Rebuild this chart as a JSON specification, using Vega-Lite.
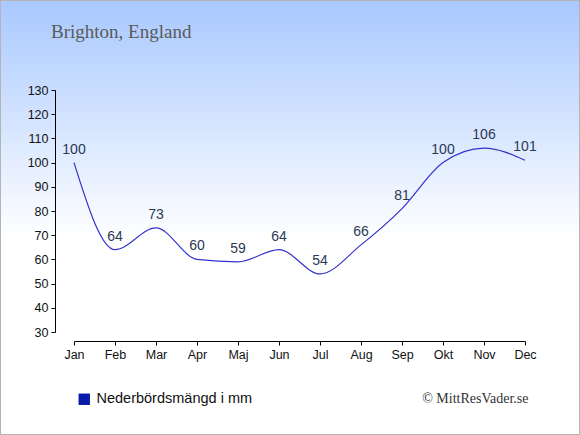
{
  "$schema": "https://vega.github.io/schema/vega-lite/v6.json",
  "width": 580,
  "height": 435,
  "autosize": {"type": "none"},
  "padding": 0,
  "background": "white",
  "title": {
    "text": "Brighton, England",
    "frame": "group",
    "anchor": "start",
    "orient": "top",
    "offset": -57,
    "dx": 51,
    "baseline": "alphabetic",
    "font": "Liberation Serif",
    "fontSize": 19,
    "fontWeight": "normal",
    "color": "#5a5a5a"
  },
  "data": {
    "values": [
      {"month": "Jan", "mm": 100},
      {"month": "Feb", "mm": 64},
      {"month": "Mar", "mm": 73},
      {"month": "Apr", "mm": 60},
      {"month": "Maj", "mm": 59},
      {"month": "Jun", "mm": 64},
      {"month": "Jul", "mm": 54},
      {"month": "Aug", "mm": 66},
      {"month": "Sep", "mm": 81},
      {"month": "Okt", "mm": 100},
      {"month": "Nov", "mm": 106},
      {"month": "Dec", "mm": 101}
    ]
  },
  "encoding": {
    "x": {
      "field": "month",
      "type": "ordinal",
      "sort": null,
      "scale": {"type": "point", "range": [74, 525], "padding": 0},
      "axis": {
        "orient": "bottom",
        "offset": -94,
        "labelAngle": 0,
        "title": "© MittResVader.se",
        "titleX": 528,
        "titleY": 61,
        "titleAlign": "right",
        "titleAnchor": null,
        "titleBaseline": "alphabetic",
        "titleFont": "Liberation Serif",
        "titleFontSize": 14,
        "titleFontWeight": "normal",
        "titleColor": "#333333"
      }
    },
    "y": {
      "field": "mm",
      "type": "quantitative",
      "scale": {"domain": [30, 130], "range": [332, 90], "nice": false, "zero": false},
      "axis": {
        "orient": "left",
        "offset": -55,
        "values": [30, 40, 50, 60, 70, 80, 90, 100, 110, 120, 130],
        "title": null,
        "grid": false
      }
    }
  },
  "layer": [
    {
      "mark": {"type": "line", "interpolate": "monotone", "strokeWidth": 1.2},
      "encoding": {
        "color": {
          "datum": "Nederbördsmängd i mm",
          "scale": {"domain": ["Nederbördsmängd i mm"], "range": ["#3333cc"]},
          "legend": {
            "title": null,
            "orient": "none",
            "legendX": 77,
            "legendY": 392,
            "padding": 0,
            "symbolType": "square",
            "symbolSize": 130,
            "symbolFillColor": "#0a1aaa",
            "symbolStrokeColor": "#0a1aaa",
            "symbolStrokeWidth": 0,
            "labelFont": "Liberation Sans",
            "labelFontSize": 14.5,
            "labelColor": "#111111",
            "labelOffset": 5
          }
        }
      }
    },
    {
      "mark": {
        "type": "text",
        "dy": -9,
        "baseline": "alphabetic",
        "font": "Liberation Sans",
        "fontSize": 14,
        "color": "#2a3a55"
      },
      "encoding": {"text": {"field": "mm", "type": "quantitative"}}
    }
  ],
  "config": {
    "view": {
      "fill": {
        "gradient": "linear",
        "x1": 0, "y1": 0, "x2": 0, "y2": 1,
        "stops": [
          {"offset": 0, "color": "#a8c8ff"},
          {"offset": 0.55, "color": "#ffffff"},
          {"offset": 1, "color": "#ffffff"}
        ]
      },
      "stroke": "#b4b4b4",
      "strokeWidth": 2
    },
    "axis": {
      "domainColor": "#000000",
      "tickColor": "#000000",
      "tickSize": 4,
      "labelFont": "Liberation Sans",
      "labelFontSize": 12.5,
      "labelColor": "#111111",
      "labelPadding": 3,
      "grid": false
    }
  }
}
